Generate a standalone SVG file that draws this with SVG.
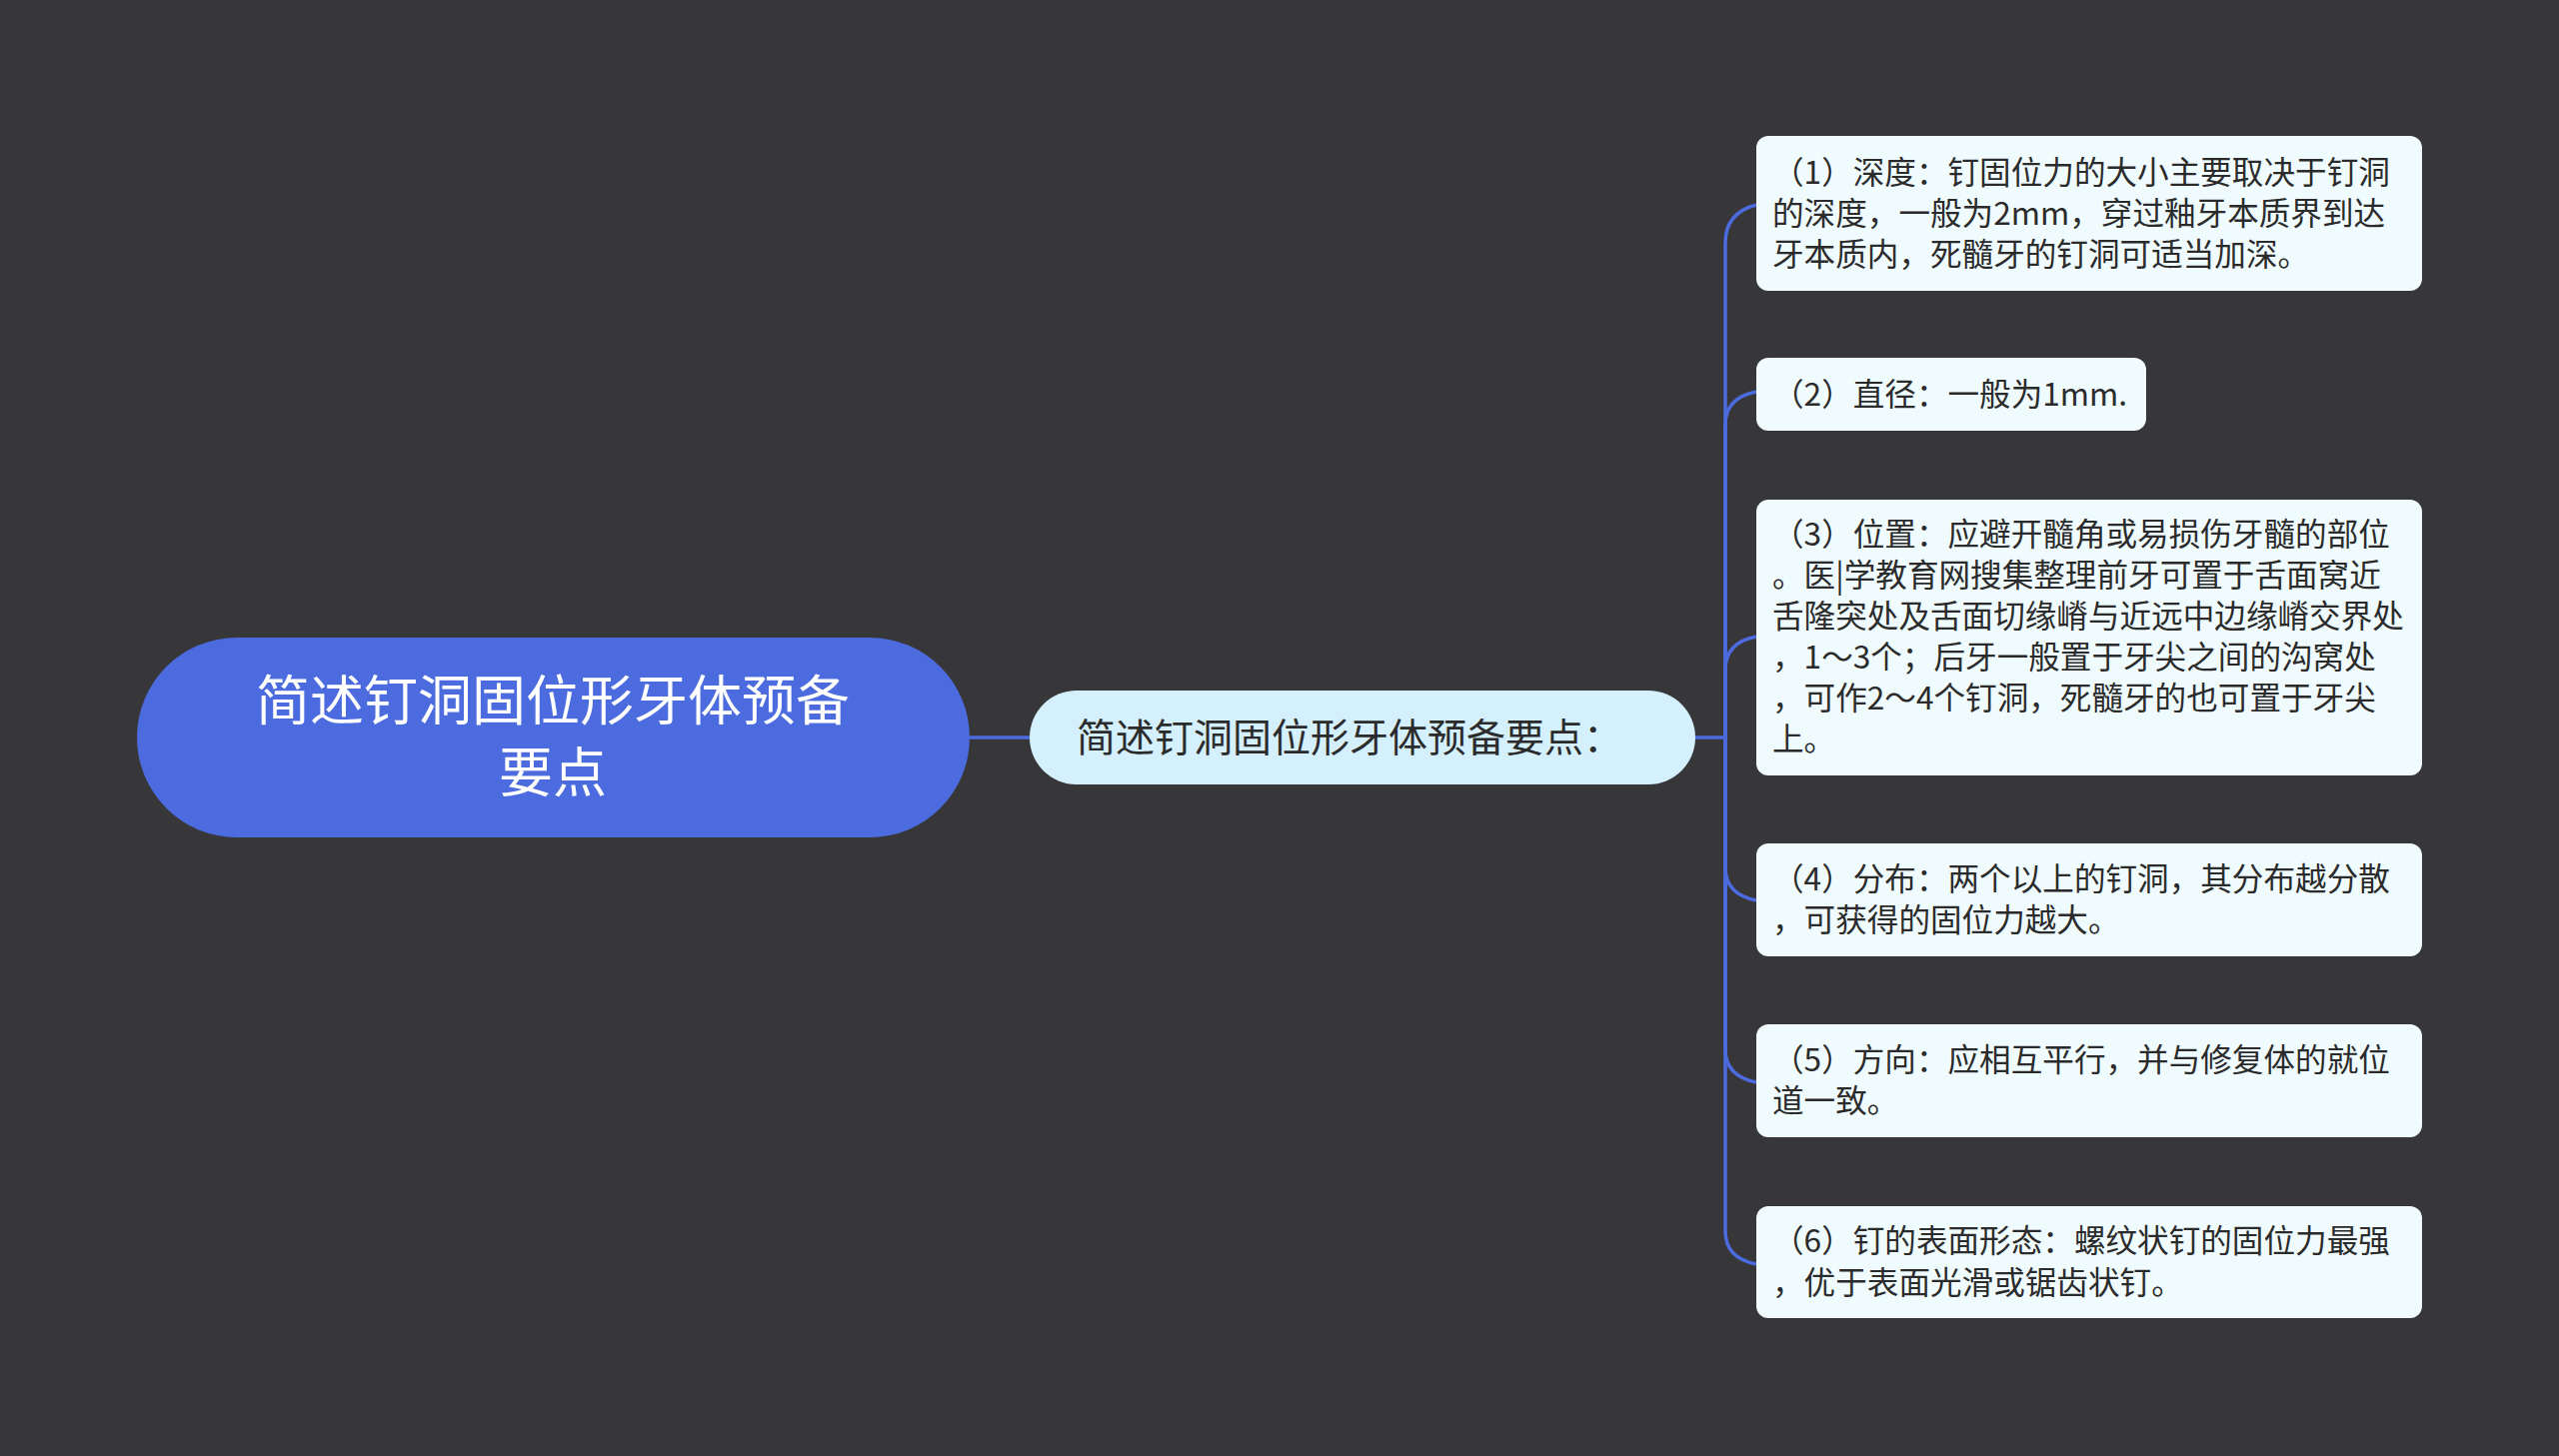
<svg xmlns="http://www.w3.org/2000/svg" width="2560" height="1457" viewBox="0 0 2560 1457">
<style>
.t{font-family:"Noto Sans CJK SC","Noto Sans",sans-serif;}
.leaf{fill:#f0fbfe;}
.lt{font-size:31.6px;fill:#2b2b2b;}
.c{fill:none;stroke:#4b6bde;stroke-width:3.5;}
</style>
<rect width="2560" height="1457" fill="#373638"/>
<g id="connectors">
<path class="c" d="M970 738 H1030"/>
<path class="c" d="M1696 738 H1726"/>
<path class="c" d="M1726 738 V243 Q1726 213 1757 205"/>
<path class="c" d="M1726 738 V425 Q1726 398 1757 392"/>
<path class="c" d="M1726 738 V670 Q1726 643 1757 637"/>
<path class="c" d="M1726 738 V868 Q1726 895 1757 901"/>
<path class="c" d="M1726 738 V1050 Q1726 1077 1757 1083"/>
<path class="c" d="M1726 738 V1232 Q1726 1259 1757 1265"/>
</g>
<g id="root">
<rect x="137" y="638" width="833" height="200" rx="100" fill="#4b6bde"/>
<text class="t" font-size="54" fill="#fff" text-anchor="middle"><tspan x="553" y="721">简述钉洞固位形牙体预备</tspan><tspan x="553" y="793">要点</tspan></text>
</g>
<g id="mid">
<rect x="1030" y="691" width="666" height="94" rx="47" fill="#d4f0fc"/>
<text class="t" font-size="39" fill="#2b2b2b" x="1077" y="752">简述钉洞固位形牙体预备要点：</text>
</g>
<g id="leaf1">
<rect class="leaf" x="1757" y="136" width="666" height="155" rx="12"/>
<text class="t lt"><tspan x="1773" y="184">（1）深度：钉固位力的大小主要取决于钉洞</tspan><tspan x="1773" y="225">的深度，一般为2mm，穿过釉牙本质界到达</tspan><tspan x="1773" y="266">牙本质内，死髓牙的钉洞可适当加深。</tspan></text>
</g>
<g id="leaf2">
<rect class="leaf" x="1757" y="358" width="390" height="73" rx="12"/>
<text class="t lt"><tspan x="1773" y="406">（2）直径：一般为1mm.</tspan></text>
</g>
<g id="leaf3">
<rect class="leaf" x="1757" y="500" width="666" height="276" rx="12"/>
<text class="t lt"><tspan x="1773" y="546">（3）位置：应避开髓角或易损伤牙髓的部位</tspan><tspan x="1773" y="587">。医|学教育网搜集整理前牙可置于舌面窝近</tspan><tspan x="1773" y="628">舌隆突处及舌面切缘嵴与近远中边缘嵴交界处</tspan><tspan x="1773" y="669">，1～3个；后牙一般置于牙尖之间的沟窝处</tspan><tspan x="1773" y="710">，可作2～4个钉洞，死髓牙的也可置于牙尖</tspan><tspan x="1773" y="751">上。</tspan></text>
</g>
<g id="leaf4">
<rect class="leaf" x="1757" y="844" width="666" height="113" rx="12"/>
<text class="t lt"><tspan x="1773" y="891">（4）分布：两个以上的钉洞，其分布越分散</tspan><tspan x="1773" y="932">，可获得的固位力越大。</tspan></text>
</g>
<g id="leaf5">
<rect class="leaf" x="1757" y="1025" width="666" height="113" rx="12"/>
<text class="t lt"><tspan x="1773" y="1072">（5）方向：应相互平行，并与修复体的就位</tspan><tspan x="1773" y="1113">道一致。</tspan></text>
</g>
<g id="leaf6">
<rect class="leaf" x="1757" y="1207" width="666" height="112" rx="12"/>
<text class="t lt"><tspan x="1773" y="1253">（6）钉的表面形态：螺纹状钉的固位力最强</tspan><tspan x="1773" y="1295">，优于表面光滑或锯齿状钉。</tspan></text>
</g>
</svg>
